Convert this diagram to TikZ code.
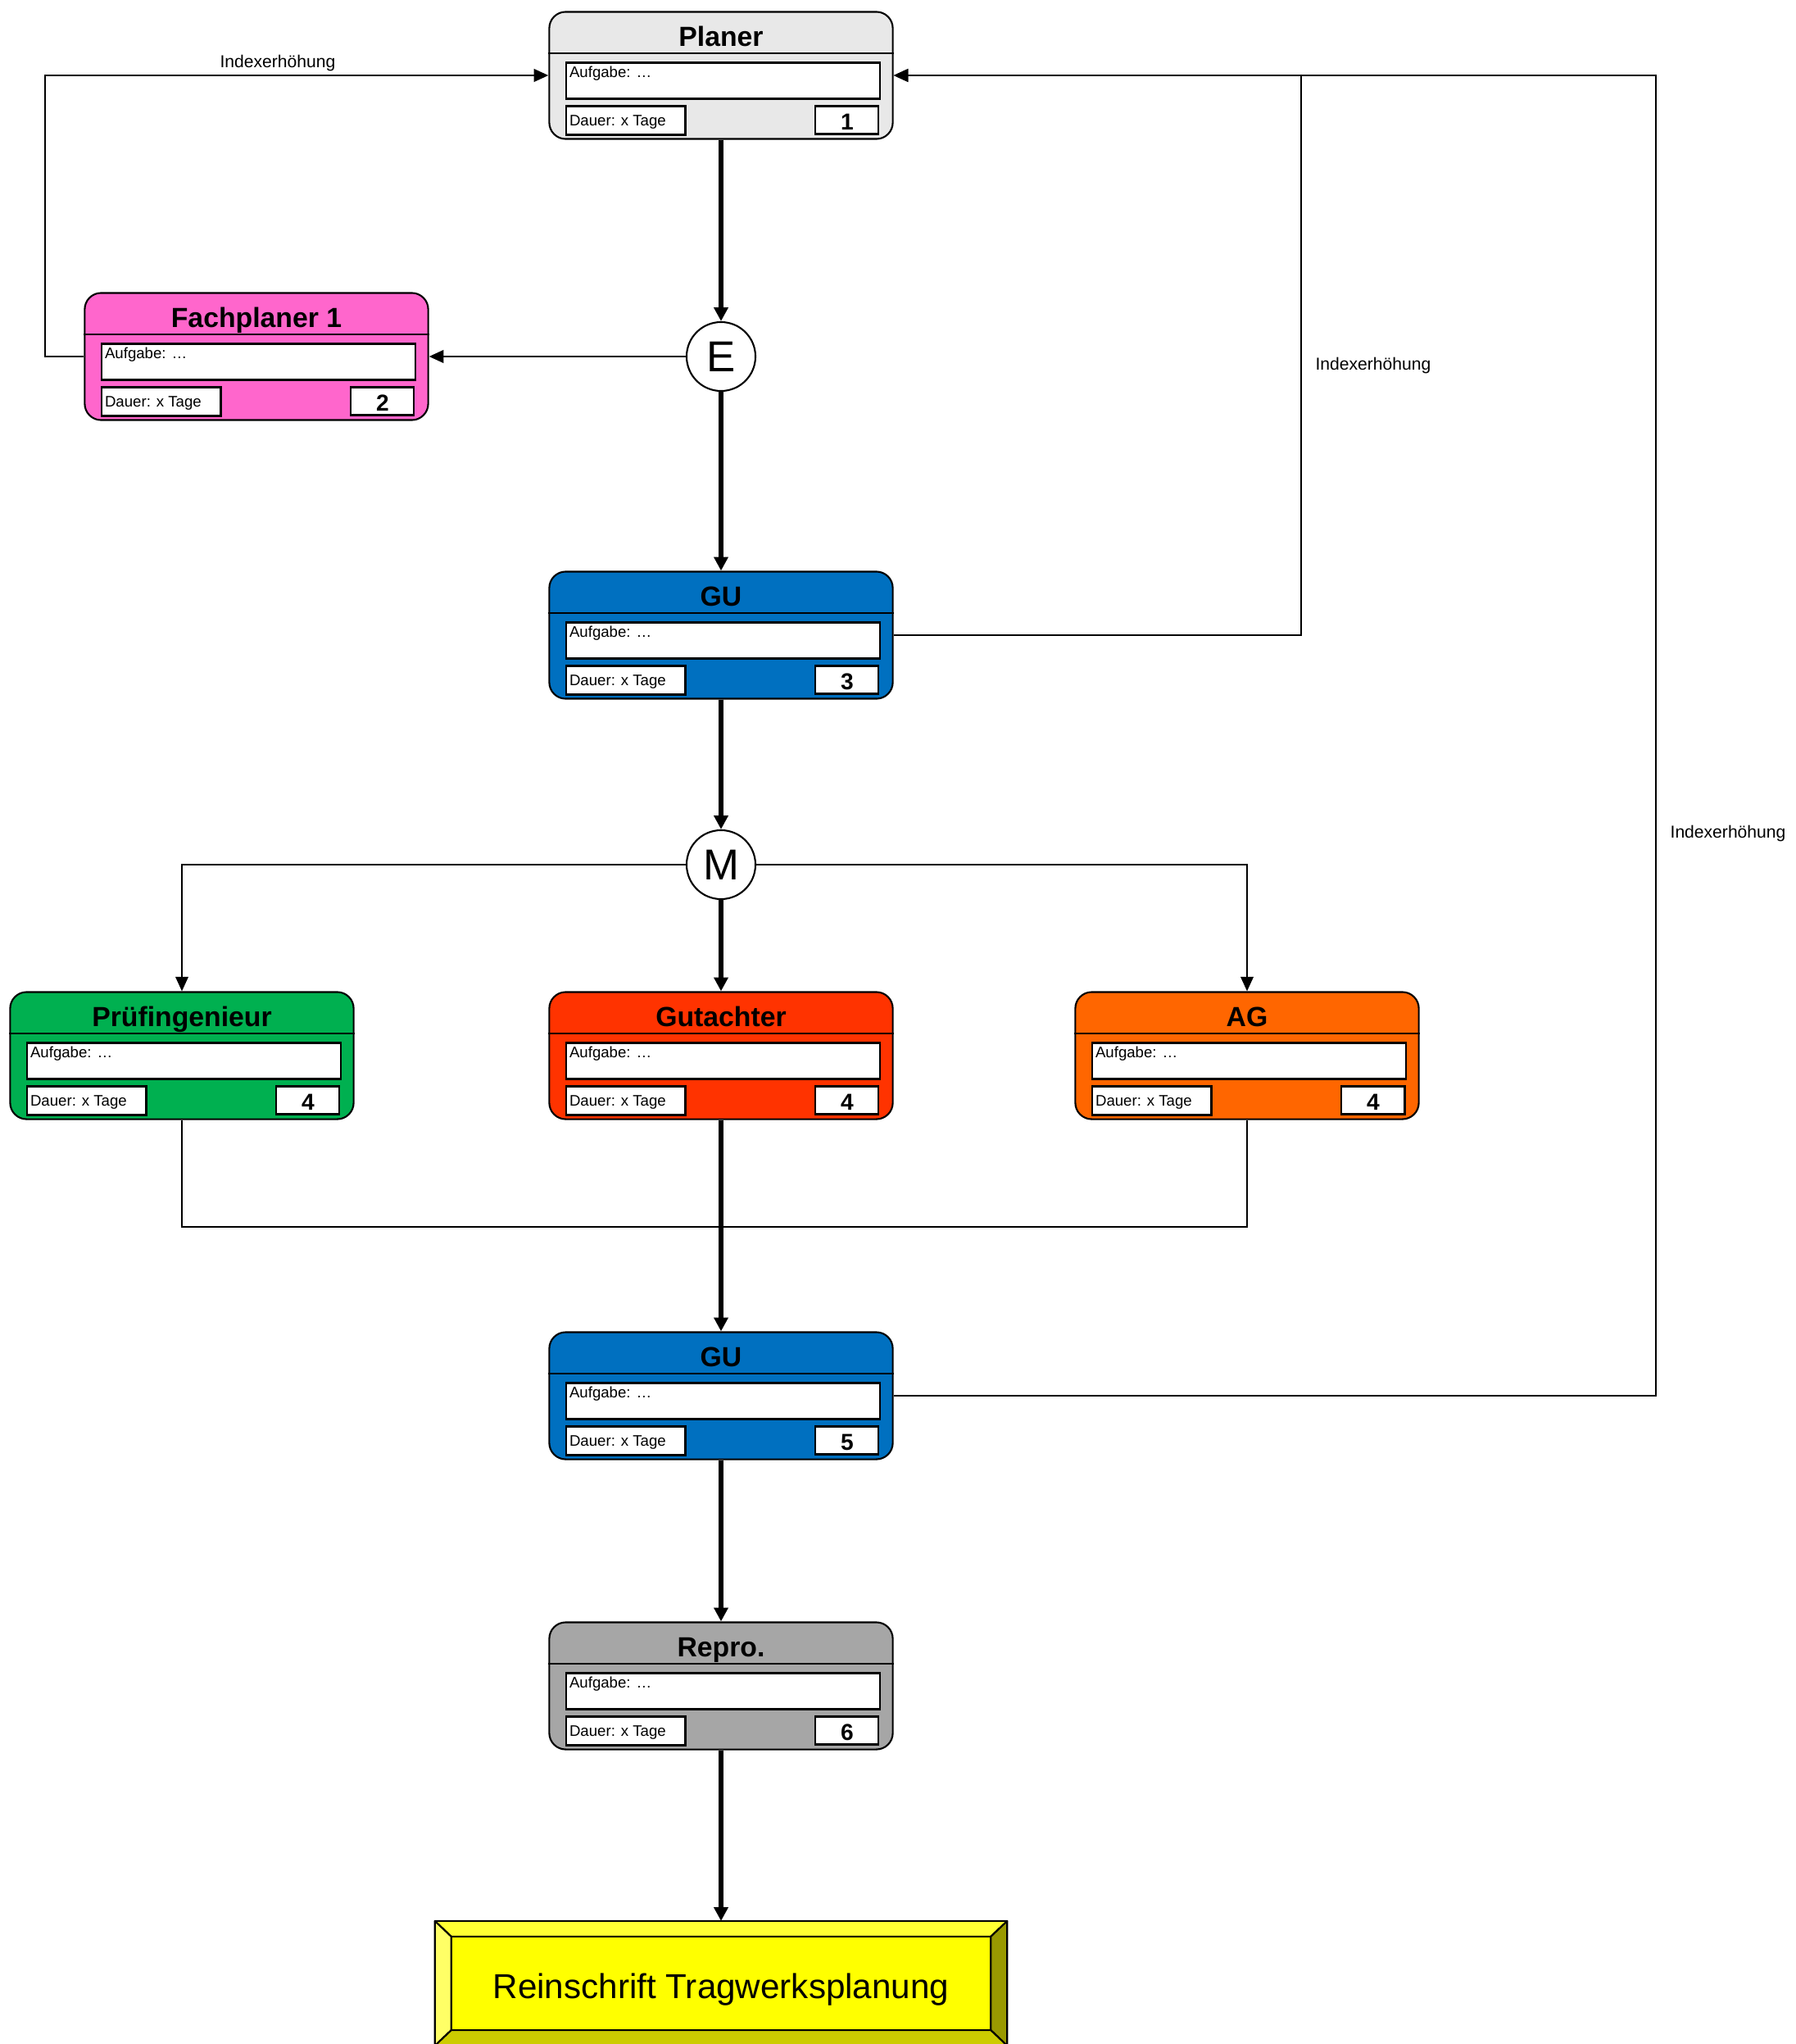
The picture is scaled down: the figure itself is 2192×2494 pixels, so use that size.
\documentclass[tikz,border=0pt]{standalone}
\usepackage{fontspec}
\setmainfont{Liberation Sans}
\usepackage{tikz}
\usetikzlibrary{positioning, arrows.meta, calc}

\definecolor{planerGray}{HTML}{E8E8E8}
\definecolor{fachPink}{HTML}{FF66CC}
\definecolor{guBlue}{HTML}{0070C0}
\definecolor{pruefGreen}{HTML}{00B050}
\definecolor{gutRed}{HTML}{FF3300}
\definecolor{agOrange}{HTML}{FF6600}
\definecolor{reproGray}{HTML}{A6A6A6}
\definecolor{reinYellow}{HTML}{FFFF00}
\definecolor{bevelTop}{HTML}{FFFF33}
\definecolor{bevelLeft}{HTML}{FFFF66}
\definecolor{bevelRight}{HTML}{999900}
\definecolor{bevelBottom}{HTML}{CCCC00}

\tikzstyle{roleRectangle} = [
    rectangle,
    draw,
    line width=0.6pt,
    rounded corners=0.2cm,
    minimum width=4.19cm,
    minimum height=1.55cm,
    inner sep=0pt
    ]
\tikzstyle{fieldRectangle} = [
    rectangle,
    draw,
    fill=white,
    line width=0.6pt,
    inner sep=0pt,
    anchor=north west
    ]
\tikzstyle{reinRectangle} = [
    rectangle,
    draw,
    fill=reinYellow,
    line width=0.6pt,
    minimum width=6.96cm,
    minimum height=1.5cm,
    inner sep=0pt
    ]
\tikzstyle{junction} = [
    circle,
    draw,
    fill=white,
    line width=0.6pt,
    minimum size=0.84cm,
    inner sep=0pt,
    font=\fontsize{15}{18}\selectfont
    ]
\tikzstyle{titleText} = [
    anchor=base,
    inner sep=0pt,
    font=\fontsize{9.6}{11}\selectfont\bfseries
    ]
\tikzstyle{fieldText} = [
    anchor=base west,
    inner sep=0pt,
    font=\fontsize{5.3}{6}\selectfont
    ]
\tikzstyle{numberText} = [
    anchor=base,
    inner sep=0pt,
    font=\fontsize{8}{9}\selectfont\bfseries
    ]
\tikzstyle{labelText} = [
    anchor=base,
    inner sep=0pt,
    font=\fontsize{6}{7}\selectfont
    ]
\tikzstyle{reinText} = [
    anchor=base,
    inner sep=0pt,
    font=\fontsize{12}{14}\selectfont
    ]
\tikzstyle{bevel} = [
    draw=black,
    line width=0.6pt,
    line join=round
    ]
\tikzstyle{flow} = [
    line width=0.65pt,
    -{Triangle[length=5pt, width=4.4pt]}
    ]
\tikzstyle{plainLine} = [
    line width=0.65pt
    ]
\tikzstyle{mainFlow} = [
    line width=1.5pt,
    -{Triangle[length=4.8pt, width=4.8pt]}
    ]

\newcommand{\roleBox}[5]{%
    \node[roleRectangle, fill=#3] (#1) at (#2) {};
    \draw[line width=0.6pt] ($(#1.north west)+(0,52)$) -- ($(#1.north east)+(0,52)$);
    \node[titleText] (#1-title) at ($(#1.north)+(0,43)$) {#4};
    \node[fieldRectangle, minimum width=3.82cm, minimum height=0.44cm] (#1-task) at ($(#1.north west)+(21,62)$) {};
    \node[fieldText] at ($(#1-task.north west)+(4,19)$) {Aufgabe: …};
    \node[fieldRectangle, minimum width=1.45cm, minimum height=0.35cm] (#1-time) at ($(#1.north west)+(21,115)$) {};
    \node[fieldText] at ($(#1-time.north west)+(4,25)$) {Dauer: x Tage};
    \node[fieldRectangle, minimum width=0.77cm, minimum height=0.34cm] (#1-nr) at ($(#1.north west)+(325,115)$) {};
    \node[numberText] at ($(#1-nr.south)+(0,-6)$) {#5};
}

\begin{document}
\begin{tikzpicture}[x=0.01cm, y=-0.01cm]
    \useasboundingbox (0,0) rectangle (2192,2494);

    \roleBox{planer}{880,92}{planerGray}{Planer}{1}
    \roleBox{fach}{313,435}{fachPink}{Fachplaner 1}{2}
    \roleBox{gu1}{880,775}{guBlue}{GU}{3}
    \roleBox{pruef}{222,1288}{pruefGreen}{Prüfingenieur}{4}
    \roleBox{gut}{880,1288}{gutRed}{Gutachter}{4}
    \roleBox{ag}{1522,1288}{agOrange}{AG}{4}
    \roleBox{gu2}{880,1703}{guBlue}{GU}{5}
    \roleBox{repro}{880,2057}{reproGray}{Repro.}{6}

    \node[junction] (e) at (880,435) {E};
    \node[junction] (m) at (880,1055) {M};

    \node[reinRectangle] (rein) at (880,2420) {};
    \coordinate (reinNW) at ($(rein.north west)+(20,19)$);
    \coordinate (reinNE) at ($(rein.north east)+(-20,19)$);
    \coordinate (reinSW) at ($(rein.south west)+(20,-19)$);
    \coordinate (reinSE) at ($(rein.south east)+(-20,-19)$);
    \filldraw[bevel, fill=bevelTop] (rein.north west) -- (rein.north east) -- (reinNE) -- (reinNW) -- cycle;
    \filldraw[bevel, fill=bevelLeft] (rein.north west) -- (reinNW) -- (reinSW) -- (rein.south west) -- cycle;
    \filldraw[bevel, fill=bevelRight] (rein.north east) -- (rein.south east) -- (reinSE) -- (reinNE) -- cycle;
    \filldraw[bevel, fill=bevelBottom] (rein.south west) -- (reinSW) -- (reinSE) -- (rein.south east) -- cycle;
    \node[reinText] at (880,2438) {Reinschrift Tragwerksplanung};

    \coordinate (leftTurn) at (55,435);
    \coordinate (guTurn) at (1588,775);
    \coordinate (gu2Turn) at (2021,1703);
    \coordinate (join) at (880,1497);

    \draw[mainFlow] (planer) -- (e);
    \draw[mainFlow] (e) -- (gu1);
    \draw[mainFlow] (gu1) -- (m);
    \draw[mainFlow] (m) -- (gut);
    \draw[mainFlow] (gut) -- (gu2);
    \draw[mainFlow] (gu2) -- (repro);
    \draw[mainFlow] (repro) -- (rein);

    \draw[flow] (e) -- (fach);
    \draw[flow] (fach.west) -- (leftTurn) |- (planer.west);
    \draw[flow] (gu1.east) -- (guTurn) |- (planer.east);
    \draw[flow] (gu2.east) -- (gu2Turn) |- (planer.east);
    \draw[flow] (m) -| (pruef);
    \draw[flow] (m) -| (ag);
    \draw[plainLine] (pruef) |- (join);
    \draw[plainLine] (ag) |- (join);

    \node[labelText] at (339,83) {Indexerhöhung};
    \node[labelText] at (1676,451) {Indexerhöhung};
    \node[labelText] at (2109,1022) {Indexerhöhung};
\end{tikzpicture}
\end{document}
